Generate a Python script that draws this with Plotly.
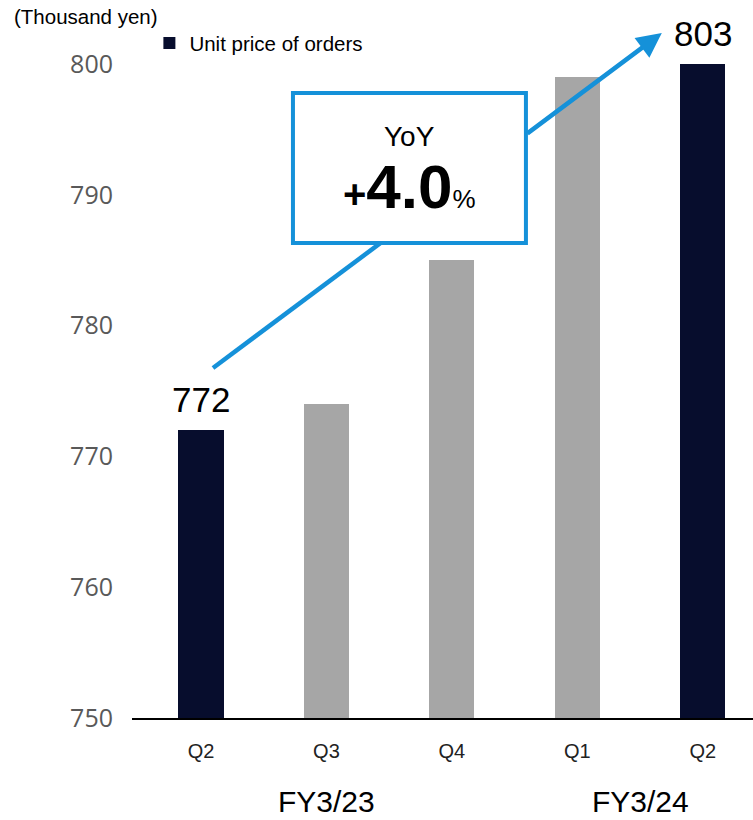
import plotly.graph_objects as go

# ---- data ----
quarters = ["Q2", "Q3", "Q4", "Q1", "Q2"]
unit_price = [772, 774, 785, 799, 803]
highlight = [True, False, False, False, True]
fiscal_years = ["FY3/23", "FY3/24"]
fy_centers = [1, 3.5]
y_ticks = [750, 760, 770, 780, 790, 800]

DARK = "#070D2D"
GRAY = "#A6A6A6"
BLUE = "#1591D9"
Y_MIN, Y_MAX = 750, 800

colors = [DARK if h else GRAY for h in highlight]

fig = go.Figure()
fig.add_trace(go.Bar(
    x=list(range(len(quarters))), y=unit_price,
    marker=dict(color=colors, line=dict(width=0)),
    width=0.36, name="Unit price of orders", showlegend=True,
))

annotations = []
# data labels for highlighted bars (placed above visible bar top)
for i, (v, h) in enumerate(zip(unit_price, highlight)):
    if h:
        annotations.append(dict(
            x=i, y=min(v, Y_MAX), xref="x", yref="y", text=str(v),
            showarrow=False, yanchor="bottom", yshift=9,
            font=dict(family="Liberation Sans, Arial", size=35, color="#000000")))

# fiscal year labels
for fy, c in zip(fiscal_years, fy_centers):
    annotations.append(dict(
        x=c, y=-0.127, xref="x", yref="paper", text=fy, showarrow=False,
        yanchor="middle", font=dict(family="Liberation Sans, Arial", size=30, color="#000000")))

# unit label
annotations.append(dict(
    x=-0.193, y=1.072, xref="paper", yref="paper", text="(Thousand yen)",
    showarrow=False, xanchor="left", yanchor="middle",
    font=dict(family="Liberation Sans, Arial", size=20.5, color="#000000")))

# arrow head segment (outside the box)
annotations.append(dict(
    x=3.673, y=802.37, xref="x", yref="y",
    ax=2.59, ay=794.61, axref="x", ayref="y",
    showarrow=True, arrowhead=2, arrowsize=1.1, arrowwidth=4.5, arrowcolor=BLUE,
    text=""))

# YoY box text
annotations.append(dict(
    x=1.66, y=794.42, xref="x", yref="y", text="YoY", showarrow=False,
    yanchor="middle", font=dict(family="Liberation Sans, Arial", size=28, color="#000000")))
annotations.append(dict(
    x=1.66, y=790.6, xref="x", yref="y",
    text="<b><span style='font-size:40px'>+</span><span style='font-size:62px'>4.0</span></b>"
         "<span style='font-size:26px'>%</span>",
    showarrow=False, yanchor="middle",
    font=dict(family="Liberation Sans, Arial", size=26, color="#000000")))

shapes = [
    dict(type="line", xref="x", yref="y", x0=0.0956, y0=776.76, x1=2.59, y1=794.61,
         line=dict(color=BLUE, width=4.5), layer="above"),
    dict(type="rect", xref="x", yref="y", x0=0.733, y0=786.31, x1=2.59, y1=797.78,
         line=dict(color=BLUE, width=4), fillcolor="white", layer="above"),
]

fig.update_layout(
    width=753, height=820,
    margin=dict(l=132, r=0, t=64, b=102),
    plot_bgcolor="white", paper_bgcolor="white",
    annotations=annotations, shapes=shapes,
    legend=dict(x=0.028, y=1.032, xanchor="left", yanchor="middle",
                font=dict(family="Liberation Sans, Arial", size=20.5, color="#000000"),
                bgcolor="rgba(0,0,0,0)", itemwidth=30),
    bargap=0,
)
fig.update_xaxes(
    tickmode="array", tickvals=list(range(len(quarters))), ticktext=quarters,
    range=[-0.55, 4.40], showgrid=False, zeroline=False,
    showline=True, linecolor="#000000", linewidth=2, ticks="",
    tickfont=dict(family="Liberation Sans, Arial", size=20, color="#222222"),
    ticklabelstandoff=14,
)
fig.update_yaxes(
    range=[Y_MIN, Y_MAX], tickvals=y_ticks, showgrid=False, zeroline=False,
    showline=False, ticks="",
    tickfont=dict(family="Open Sans", size=25, color="#595959"),
    ticklabelstandoff=18,
)

fig.write_html("out.html", config={"displayModeBar": False},
               post_script="document.body.style.margin='0';document.body.style.padding='0';")
